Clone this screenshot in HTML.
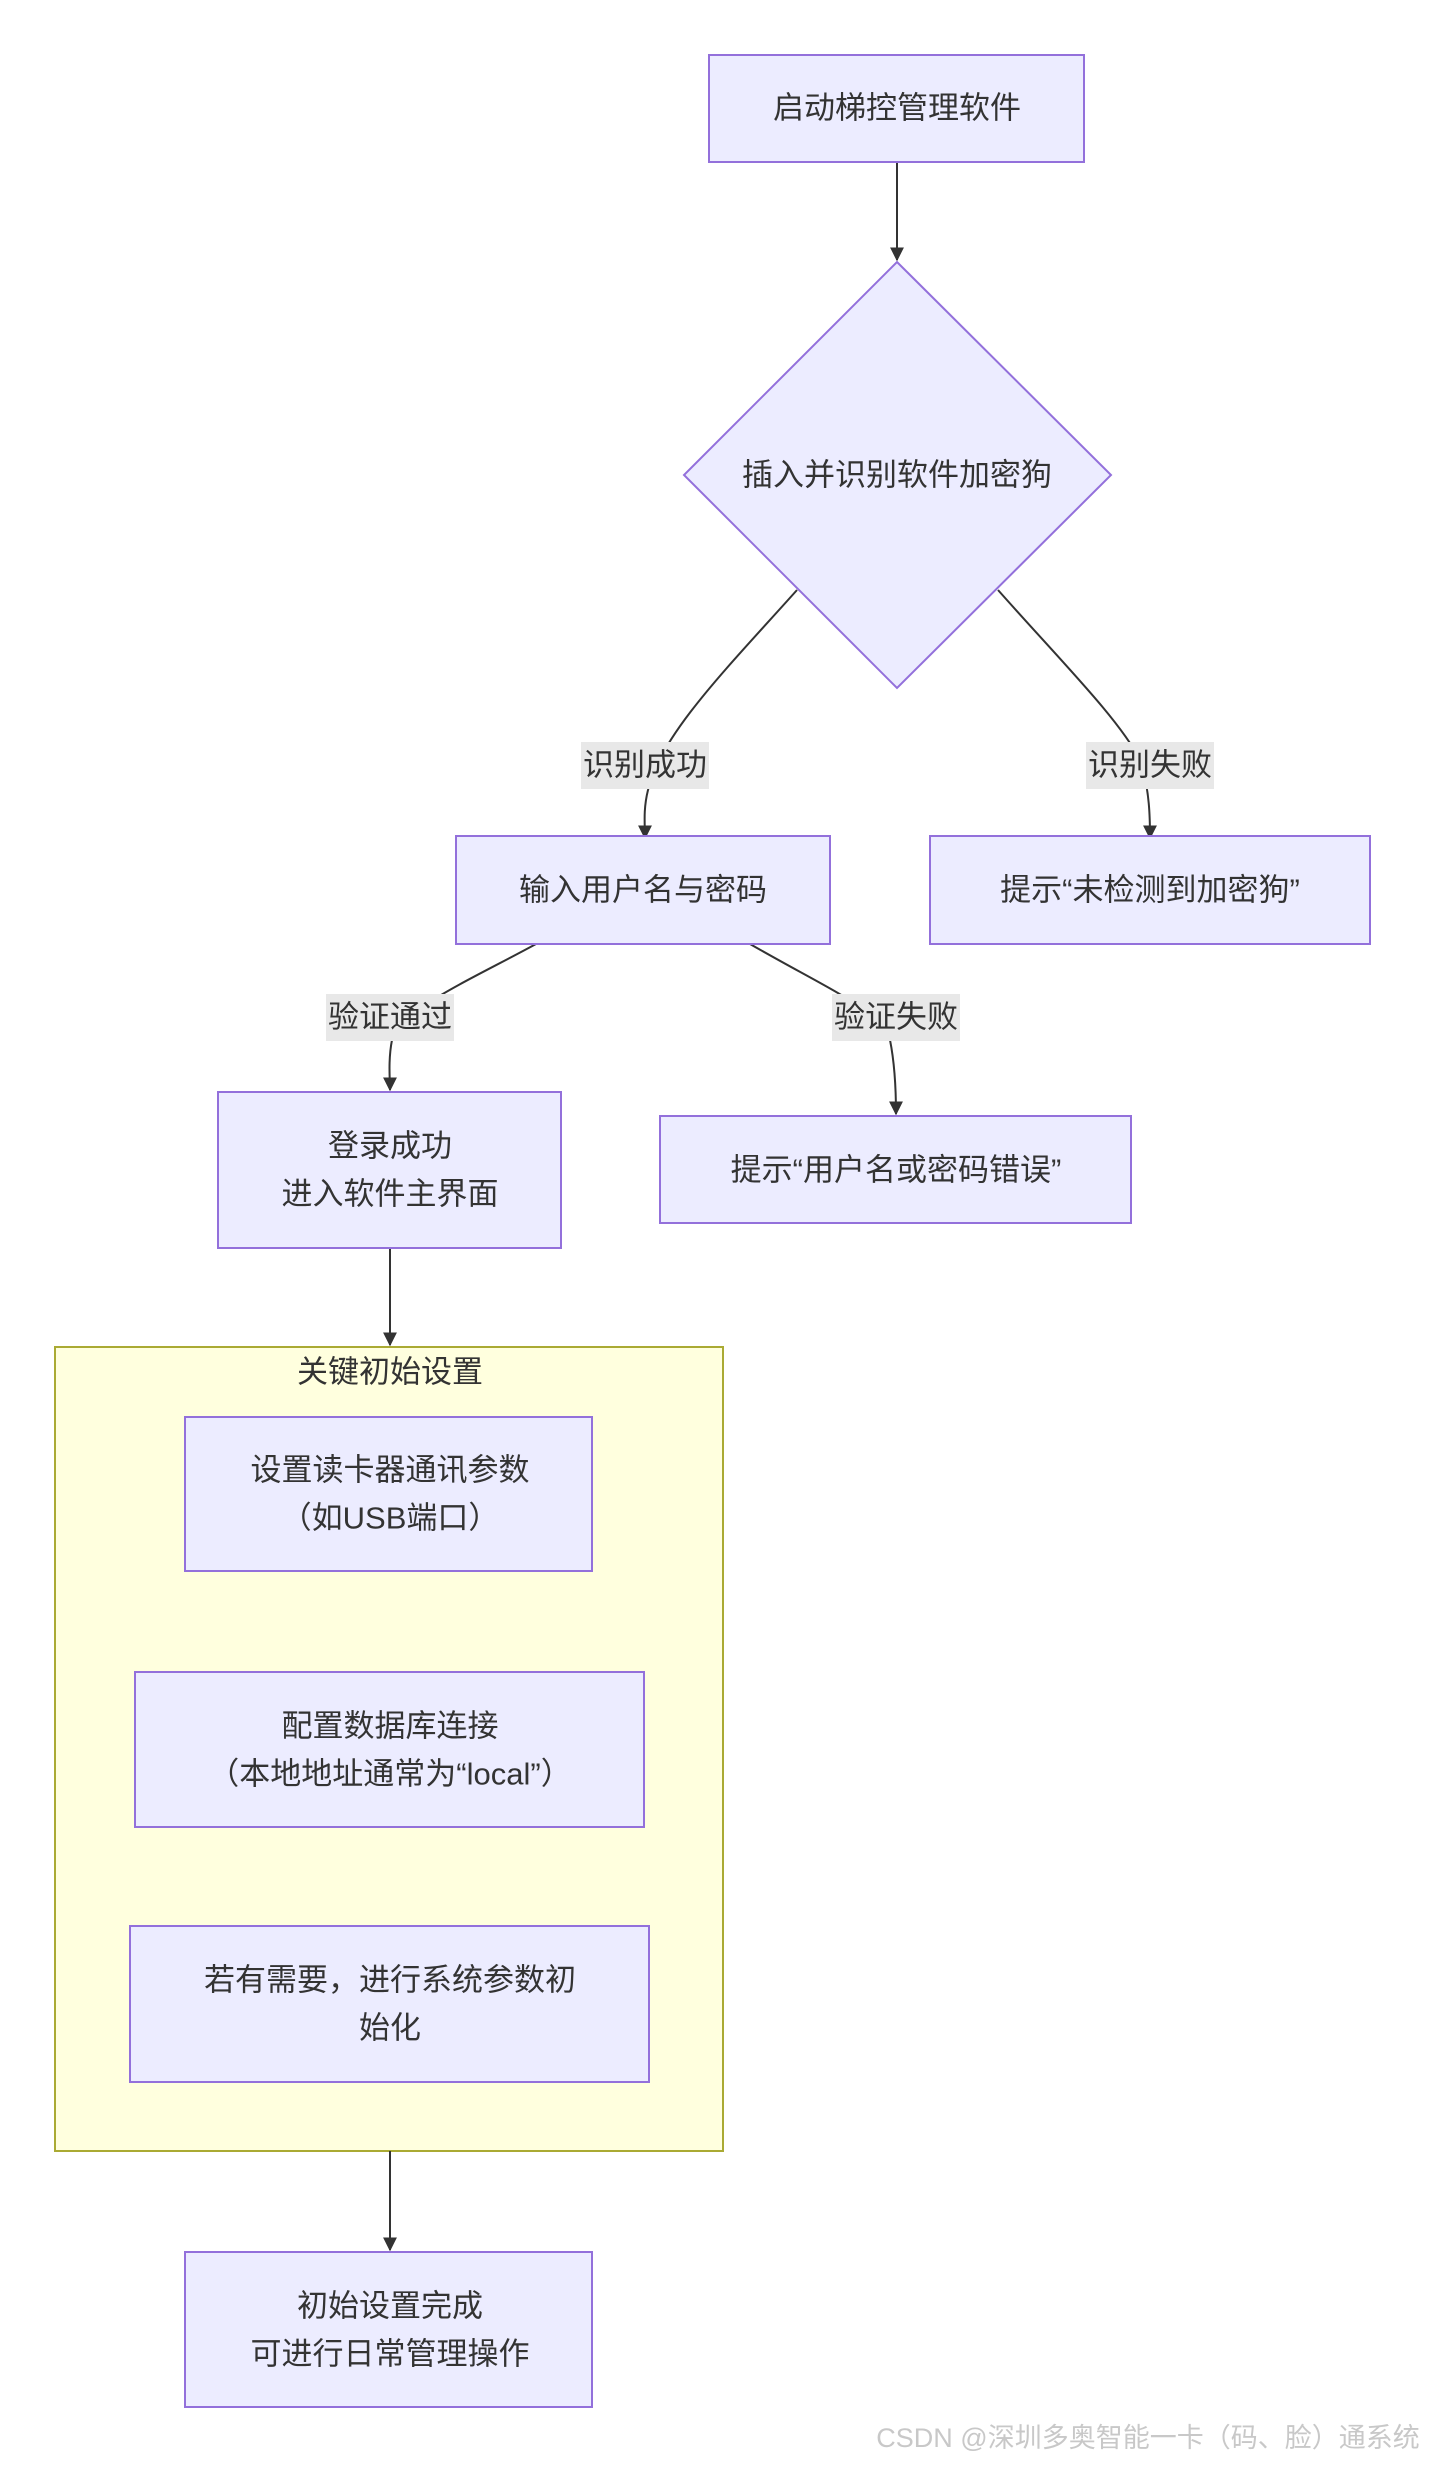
<!DOCTYPE html>
<html><head><meta charset="utf-8"><style>
html,body{margin:0;padding:0;background:#fff;}
svg{display:block;}
text{font-family:"Liberation Sans","Noto Sans CJK SC",sans-serif;font-size:31px;fill:#333;}
</style></head><body>
<svg width="1430" height="2472" viewBox="0 0 1430 2472" xmlns="http://www.w3.org/2000/svg">
<defs><marker id="a" viewBox="0 0 10 10" refX="9" refY="5" markerWidth="7" markerHeight="7" orient="auto"><path d="M0,0L10,5L0,10z" fill="#333"/></marker></defs>
<rect x="55" y="1347" width="668" height="804" fill="#ffffde" stroke="#aaaa33" stroke-width="2"/>
<g fill="none" stroke="#333" stroke-width="2">
<path d="M897,162L897,260" marker-end="url(#a)"/>
<path d="M797,590C730,665 660,735 648,790C643,810 645,825 645,838" marker-end="url(#a)"/>
<path d="M998,590C1060,660 1120,720 1140,760C1150,790 1150,820 1150,838" marker-end="url(#a)"/>
<path d="M536,944C470,980 400,1010 392,1040C388,1060 390,1080 390,1090" marker-end="url(#a)"/>
<path d="M750,944C830,990 880,1010 890,1040C896,1070 896,1100 896,1114" marker-end="url(#a)"/>
<path d="M390,1248L390,1345" marker-end="url(#a)"/>
<path d="M390,2151L390,2250" marker-end="url(#a)"/>
</g>
<g fill="#ECECFF" stroke="#9370DB" stroke-width="2">
<rect x="709" y="55" width="375" height="107"/>
<polygon points="897,262 1111,475 897,688 684,475"/>
<rect x="456" y="836" width="374" height="108"/>
<rect x="930" y="836" width="440" height="108"/>
<rect x="218" y="1092" width="343" height="156"/>
<rect x="660" y="1116" width="471" height="107"/>
<rect x="185" y="1417" width="407" height="154"/>
<rect x="135" y="1672" width="509" height="155"/>
<rect x="130" y="1926" width="519" height="156"/>
<rect x="185" y="2252" width="407" height="155"/>
</g>
<g fill="#e8e8e8">
<rect x="581" y="742" width="128" height="47"/>
<rect x="1086" y="742" width="128" height="47"/>
<rect x="326" y="994" width="128" height="47"/>
<rect x="832" y="994" width="128" height="47"/>
</g>
<g text-anchor="middle" dominant-baseline="central">
<text x="897" y="108">启动梯控管理软件</text>
<text x="897" y="475">插入并识别软件加密狗</text>
<text x="645" y="765">识别成功</text>
<text x="1150" y="765">识别失败</text>
<text x="643" y="890">输入用户名与密码</text>
<text x="1150" y="890">提示“未检测到加密狗”</text>
<text x="390" y="1017">验证通过</text>
<text x="896" y="1017">验证失败</text>
<text x="390" y="1146">登录成功</text>
<text x="390" y="1194">进入软件主界面</text>
<text x="896" y="1170">提示“用户名或密码错误”</text>
<text x="390" y="1372">关键初始设置</text>
<text x="390" y="1470">设置读卡器通讯参数</text>
<text x="390" y="1518">（如USB端口）</text>
<text x="390" y="1726">配置数据库连接</text>
<text x="390" y="1774">（本地地址通常为“local”）</text>
<text x="390" y="1980">若有需要，进行系统参数初</text>
<text x="390" y="2028">始化</text>
<text x="390" y="2306">初始设置完成</text>
<text x="390" y="2354">可进行日常管理操作</text>
<text x="1148" y="2438" style="font-size:27px;fill:#c8c8c8">CSDN @深圳多奥智能一卡（码、脸）通系统</text>
</g>
</svg>
</body></html>
